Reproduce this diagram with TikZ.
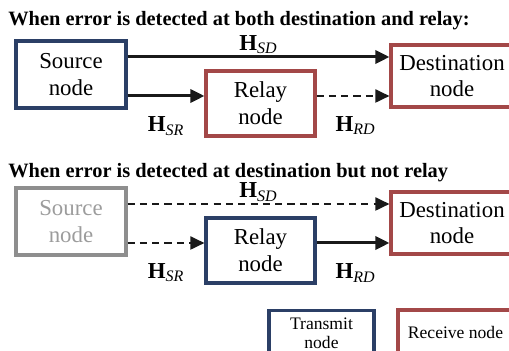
\documentclass[tikz,border=0pt]{standalone}
\usepackage{fontspec}
\setmainfont{Liberation Serif}
\usepackage{xcolor}
\usepackage{tikz}
\usetikzlibrary{positioning,arrows.meta,calc}
\definecolor{txblue}  {HTML}{2B3F66}
\definecolor{rxred}   {HTML}{A34848}
\definecolor{offgray} {HTML}{8E8E8E}
\definecolor{offtext} {HTML}{9C9C9C}
\tikzset{
  box/.style    = {draw, line width=1.8pt, align=center, inner sep=2pt,
                   font=\fontsize{13}{15.3}\selectfont},
  txbox/.style  = {box, draw=txblue},
  rxbox/.style  = {box, draw=rxred},
  offbox/.style = {box, draw=offgray, text=offtext},
  srcdim/.style = {minimum width=2.2cm, minimum height=1.34cm},
  reldim/.style = {minimum width=2.18cm, minimum height=1.30cm},
  dstdim/.style = {minimum width=2.44cm, minimum height=1.24cm},
  link/.style   = {-{Triangle[length=8pt, width=7.5pt]}, draw=black!90, line width=1.7pt},
  weak/.style   = {-{Triangle[length=8pt, width=7.5pt]}, draw=black!90, line width=0.9pt,
                   dash pattern=on 4pt off 3pt},
  chan/.style   = {font=\fontsize{13}{15}\selectfont, inner sep=0pt},
  head/.style   = {font=\fontsize{11.6}{14}\selectfont\bfseries, inner sep=0pt},
  legend/.style = {font=\fontsize{10}{11}\selectfont},
}
\newcommand{\chanH}[1]{\textbf{H}\textsubscript{\textit{#1}}}

\begin{document}
\begin{tikzpicture}
  \useasboundingbox (0,0) rectangle (10.18,7.02);

  % both in error
  \node[head, anchor=base west] (title1) at (0.16,6.50) {When error is detected at both destination and relay:};
  \node[txbox, srcdim] (src1) at (1.42,5.53) {Source\\node};
  \node[rxbox, reldim] (rel1) at (5.21,4.95) {Relay\\node};
  \node[rxbox, dstdim] (dst1) at (9.04,5.50) {Destination\\node};

  \coordinate (sd1) at ([yshift=3.5mm]src1.east);
  \coordinate (sr1) at ([yshift=-4.3mm]src1.east);
  \coordinate (rd1) at ([yshift=1.5mm]rel1.east);
  \draw[link] (sd1) -- (sd1 -| dst1.west) node[chan, midway, above=0.4mm] (hsd1) {\chanH{SD}};
  \draw[link] (sr1) -- (sr1 -| rel1.west) node[chan, midway, below=3.9mm] (hsr1) {\chanH{SR}};
  \draw[weak] (rd1) -- (rd1 -| dst1.west) node[chan, midway, below=3.9mm, xshift=0.05cm] (hrd1) {\chanH{RD}};

  % only destination in error
  \node[head, anchor=base west] (title2) at (0.16,3.47) {When error is detected at destination but not relay};
  \node[offbox, srcdim] (src2) at (1.42,2.59) {Source\\node};
  \node[txbox, reldim] (rel2) at (5.21,2.01) {Relay\\node};
  \node[rxbox, dstdim] (dst2) at (9.04,2.56) {Destination\\node};

  \coordinate (sd2) at ([yshift=3.5mm]src2.east);
  \coordinate (sr2) at ([yshift=-4.3mm]src2.east);
  \coordinate (rd2) at ([yshift=1.5mm]rel2.east);
  \draw[weak] (sd2) -- (sd2 -| dst2.west) node[chan, midway, above=0.4mm] (hsd2) {\chanH{SD}};
  \draw[weak] (sr2) -- (sr2 -| rel2.west) node[chan, midway, below=3.9mm] (hsr2) {\chanH{SR}};
  \draw[link] (rd2) -- (rd2 -| dst2.west) node[chan, midway, below=3.9mm, xshift=0.05cm] (hrd2) {\chanH{RD}};

  % legend
  \node[txbox, legend, minimum width=2.1cm, minimum height=0.9cm] (legtx) at (6.43,0.36) {Transmit\\node};
  \node[rxbox, legend, minimum width=2.3cm, minimum height=0.9cm] (legrx) at (9.11,0.37) {Receive node};
\end{tikzpicture}
\end{document}
